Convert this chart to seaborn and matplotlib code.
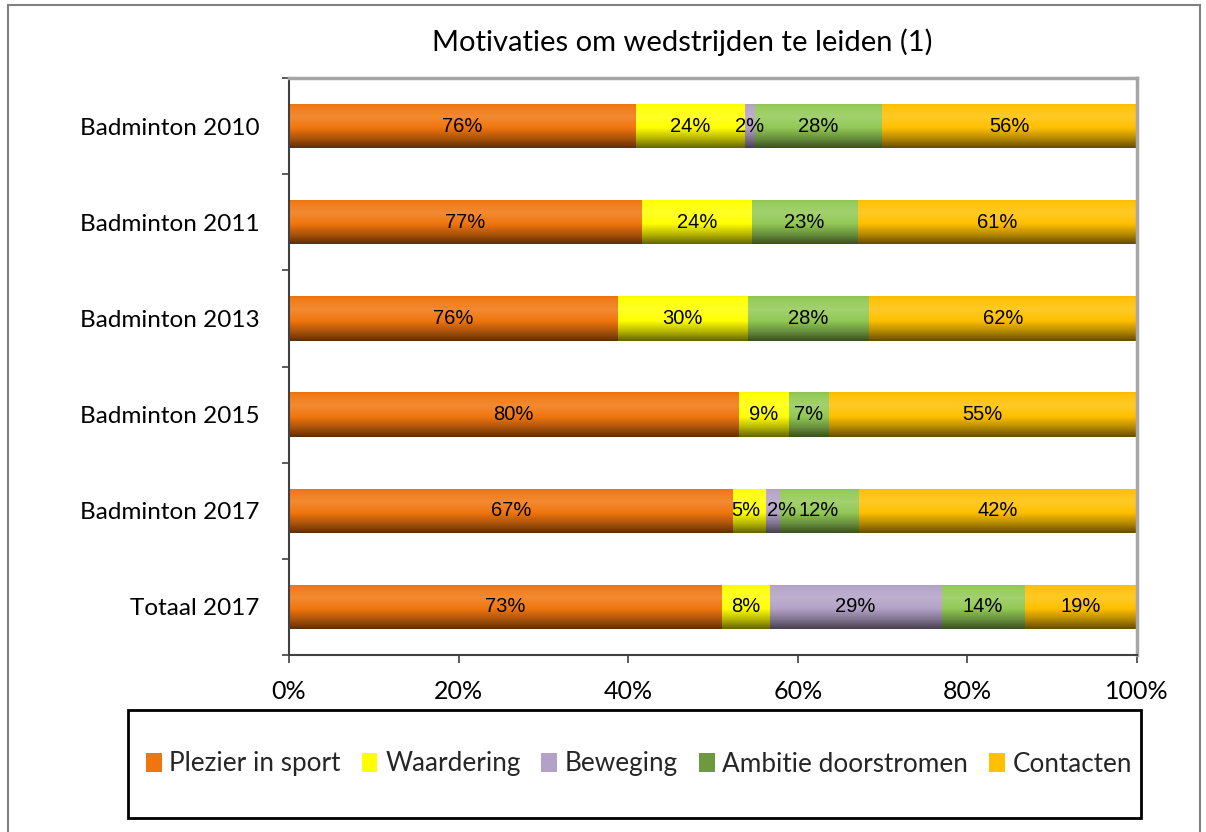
import numpy as np
import pandas as pd
import matplotlib
matplotlib.use("Agg")
import matplotlib.pyplot as plt
import matplotlib.colors as mcolors
from matplotlib.patches import Rectangle, Patch
import seaborn as sns

# data
categories = ["Badminton 2010", "Badminton 2011", "Badminton 2013",
              "Badminton 2015", "Badminton 2017", "Totaal 2017"]
series = ["Plezier in sport", "Waardering", "Beweging", "Ambitie doorstromen", "Contacten"]
plezier = [76, 77, 76, 80, 67, 73]
waardering = [24, 24, 30, 9, 5, 8]
beweging = [2, 0, 0, 0, 2, 29]
ambitie = [28, 23, 28, 7, 12, 14]
contacten = [56, 61, 62, 55, 42, 19]
colors = ["#F0750E", "#FFFF00", "#B3A2C7", "#92C955", "#FFC000"]
xticks = [0, 20, 40, 60, 80, 100]

df = pd.DataFrame({"cat": categories, series[0]: plezier, series[1]: waardering,
                   series[2]: beweging, series[3]: ambitie, series[4]: contacten})
vals = df[series]
share = vals.div(vals.sum(axis=1), axis=0) * 100
cum = share.cumsum(axis=1)

sns.set_theme(style="white")
plt.rcParams["font.family"] = ["Lato", "DejaVu Sans"]

fig = plt.figure(figsize=(12.06, 8.32), dpi=100)
ax = fig.add_axes([289 / 1206, 1 - 655 / 832, 848 / 1206, 577 / 832])

# stacked bars: draw cumulative totals, longest first
for i in range(len(series) - 1, -1, -1):
    sns.barplot(x=cum[series[i]], y=df["cat"], orient="h", color=colors[i],
                saturation=1, width=0.46, errorbar=None, ax=ax, linewidth=0)

# vertical gradient like the old excel bars
def shade(c, t):
    c = np.array(mcolors.to_rgb(c))
    prof = np.interp(t, [0, 0.08, 0.3, 0.55, 0.8, 1.0], [-0.03, 0.05, 0.15, 0.0, -0.3, -0.6])
    out = np.empty((len(t), 3))
    for k, p in enumerate(prof):
        out[k] = c + (1 - c) * p if p > 0 else c * (1 + p)
    return out

tt = np.linspace(0, 1, 64)
for p in list(ax.patches):
    if p.get_width() <= 0:
        continue
    x0, y0 = p.get_x(), p.get_y()
    w, h = p.get_width(), p.get_height()
    img = shade(p.get_facecolor(), tt).reshape(-1, 1, 3)
    im = ax.imshow(img, extent=[x0, x0 + w, y0 + h, y0], aspect="auto",
                   interpolation="bilinear", zorder=1.1)
    im.set_clip_path(p)

# value labels (the small 2% in 2017 sits a bit to the right, as in the original)
nudge = {(4, "Waardering"): -0.4, (4, "Beweging"): 1.0}
for r in range(len(categories)):
    for i, s in enumerate(series):
        v = vals.iloc[r][s]
        if v <= 0:
            continue
        xc = cum.iloc[r][s] - share.iloc[r][s] / 2 + nudge.get((r, s), 0)
        ax.text(xc, r, f"{v}%", ha="center", va="center", fontsize=14.5,
                family=["Liberation Sans", "DejaVu Sans"], color="black", zorder=3)

ax.set_xlim(0, 100)
ax.set_ylim(len(categories) - 0.5, -0.5)
ax.set_xticks(xticks)
ax.set_xticklabels([f"{x}%" for x in xticks])
ax.set_yticks(range(len(categories)))
ax.set_yticklabels(categories)
ax.set_yticks(np.arange(-0.5, len(categories), 1), minor=True)
ax.set_xlabel("")
ax.set_ylabel("")
ax.tick_params(axis="y", which="major", length=0, pad=21, labelsize=17.5, colors="black")
ax.tick_params(axis="y", which="minor", left=True, length=5, width=1.2, color="#404040", direction="out")
ax.tick_params(axis="x", which="major", bottom=True, length=6, width=1.2, color="#404040",
               direction="out", pad=12, labelsize=18, labelcolor="black")
for side in ["left", "bottom"]:
    ax.spines[side].set_color("#404040")
    ax.spines[side].set_linewidth(1.5)
for side in ["top", "right"]:
    ax.spines[side].set_color("#A6A6A6")
    ax.spines[side].set_linewidth(2.5)

fig.text(682 / 1206, 1 - 42 / 832, "Motivaties om wedstrijden te leiden (1)",
         ha="center", va="center", fontsize=21, color="black")

# outer chart border
fig.add_artist(Rectangle((8 / 1206, -0.05), 1192 / 1206, 1.05 - 5 / 832,
                         transform=fig.transFigure, fill=False, edgecolor="#808080", lw=1.5))

# legend box and legend
fig.add_artist(Rectangle((128 / 1206, 1 - 818 / 832), 1013 / 1206, 108 / 832,
                         transform=fig.transFigure, fill=False, edgecolor="black", lw=2))
handles = [Patch(facecolor=c, edgecolor="none") for c in colors]
handles[3] = Patch(facecolor="#6E9A3E", edgecolor="none")
fig.legend(handles, series, loc="center", bbox_to_anchor=(639 / 1206, 1 - 764 / 832),
           ncol=5, frameon=False, fontsize=18.8, handlelength=0.6, handleheight=0.75,
           handletextpad=0.3, columnspacing=0.8, borderaxespad=0)

fig.savefig("out.png", dpi=100)
